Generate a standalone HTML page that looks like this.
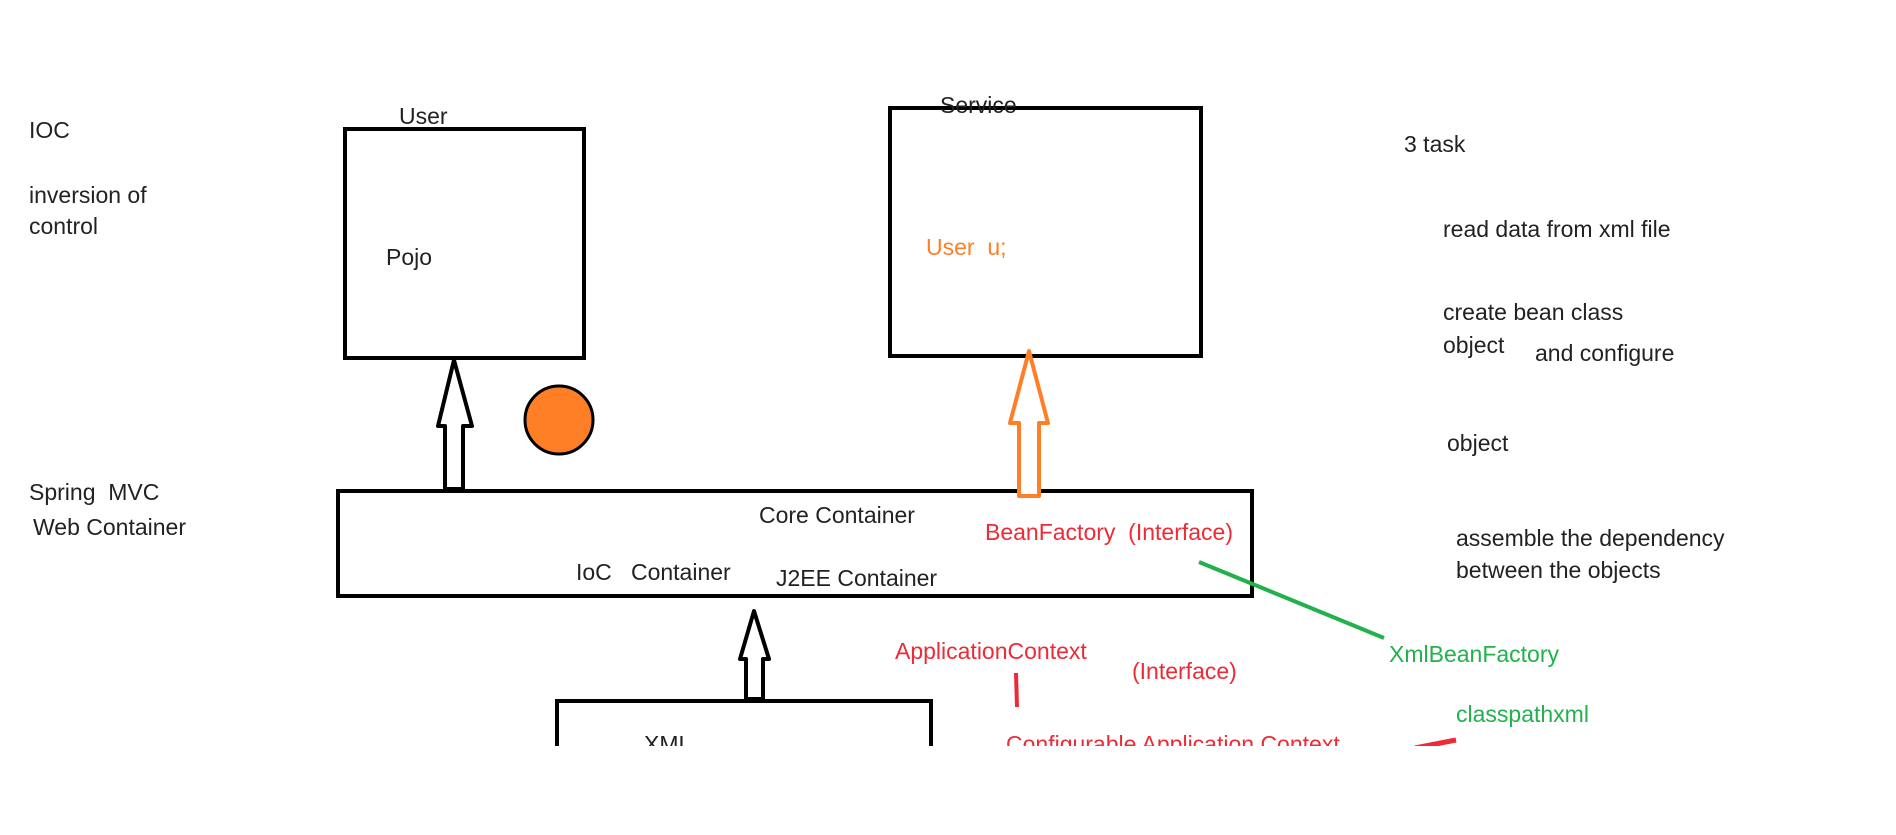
<!DOCTYPE html>
<html><head><meta charset="utf-8"><style>
body{margin:0;width:1896px;height:835px;background:#fff;position:relative;overflow:hidden;font-family:"Liberation Sans",sans-serif;font-size:23px;color:#222}
.t{position:absolute;white-space:nowrap;line-height:24px}
.b{position:absolute;border:4px solid #000;box-sizing:border-box}
.r{color:#ed2b36}.g{color:#22b14c}.o{color:#ff7f27}
</style></head><body>
<div class="b" style="left:343px;top:127px;width:243px;height:233px"></div>
<div class="b" style="left:888px;top:106px;width:315px;height:252px"></div>
<div class="b" style="left:336px;top:489px;width:918px;height:109px"></div>
<div class="b" style="left:555px;top:699px;width:378px;height:80px"></div>
<svg style="position:absolute;left:0;top:0" width="1896" height="835">
<circle cx="559" cy="420" r="34" fill="#ff7f27" stroke="#000" stroke-width="3"/>
<polygon points="454,360 472,426 463,426 463,489 445,489 445,426 438,426" fill="#fff" stroke="#000" stroke-width="4" stroke-linejoin="round"/>
<polygon points="1029,351 1048,423 1039,423 1039,496 1019,496 1019,423 1010,423" fill="#fff" stroke="#ff7f27" stroke-width="4" stroke-linejoin="round"/>
<polygon points="754,611 769,659 763,659 763,699 746,699 746,659 740,659" fill="#fff" stroke="#000" stroke-width="4" stroke-linejoin="round"/>
<line x1="1199" y1="562" x2="1384" y2="638" stroke="#22b14c" stroke-width="4"/>
<line x1="1016" y1="673" x2="1017" y2="707" stroke="#ed2b36" stroke-width="4"/>
<path d="M1415 748 L1456 740" stroke="#ed2b36" stroke-width="5"/>
</svg>
<div class="t" style="left:399px;top:104px">User</div>
<div class="t" style="left:940px;top:93px">Service</div>
<div class="t" style="left:386px;top:245px">Pojo</div>
<div class="t o" style="left:926px;top:235px">User&nbsp; u;</div>
<div class="t" style="left:29px;top:118px">IOC</div>
<div class="t" style="left:29px;top:183px">inversion of</div>
<div class="t" style="left:29px;top:214px">control</div>
<div class="t" style="left:1404px;top:132px">3 task</div>
<div class="t" style="left:1443px;top:217px">read data from xml file</div>
<div class="t" style="left:1443px;top:300px">create bean class</div>
<div class="t" style="left:1443px;top:333px">object</div>
<div class="t" style="left:1535px;top:341px">and configure</div>
<div class="t" style="left:1447px;top:431px">object</div>
<div class="t" style="left:1456px;top:526px">assemble the dependency</div>
<div class="t" style="left:1456px;top:558px">between the objects</div>
<div class="t" style="left:29px;top:480px">Spring&nbsp; MVC</div>
<div class="t" style="left:33px;top:515px">Web Container</div>
<div class="t" style="left:759px;top:503px">Core Container</div>
<div class="t r" style="left:985px;top:520px">BeanFactory&nbsp; (Interface)</div>
<div class="t" style="left:576px;top:560px">IoC&nbsp;&nbsp; Container</div>
<div class="t" style="left:776px;top:566px">J2EE Container</div>
<div class="t r" style="left:895px;top:639px">ApplicationContext</div>
<div class="t r" style="left:1132px;top:659px">(Interface)</div>
<div class="t g" style="left:1389px;top:642px">XmlBeanFactory</div>
<div class="t g" style="left:1456px;top:702px">classpathxml</div>
<div class="t" style="left:644px;top:732px">XML</div>
<div class="t r" style="left:1006px;top:732px">Configurable Application Context</div>
<div style="position:absolute;left:0;top:746px;width:1896px;height:89px;background:#fff"></div>
</body></html>
